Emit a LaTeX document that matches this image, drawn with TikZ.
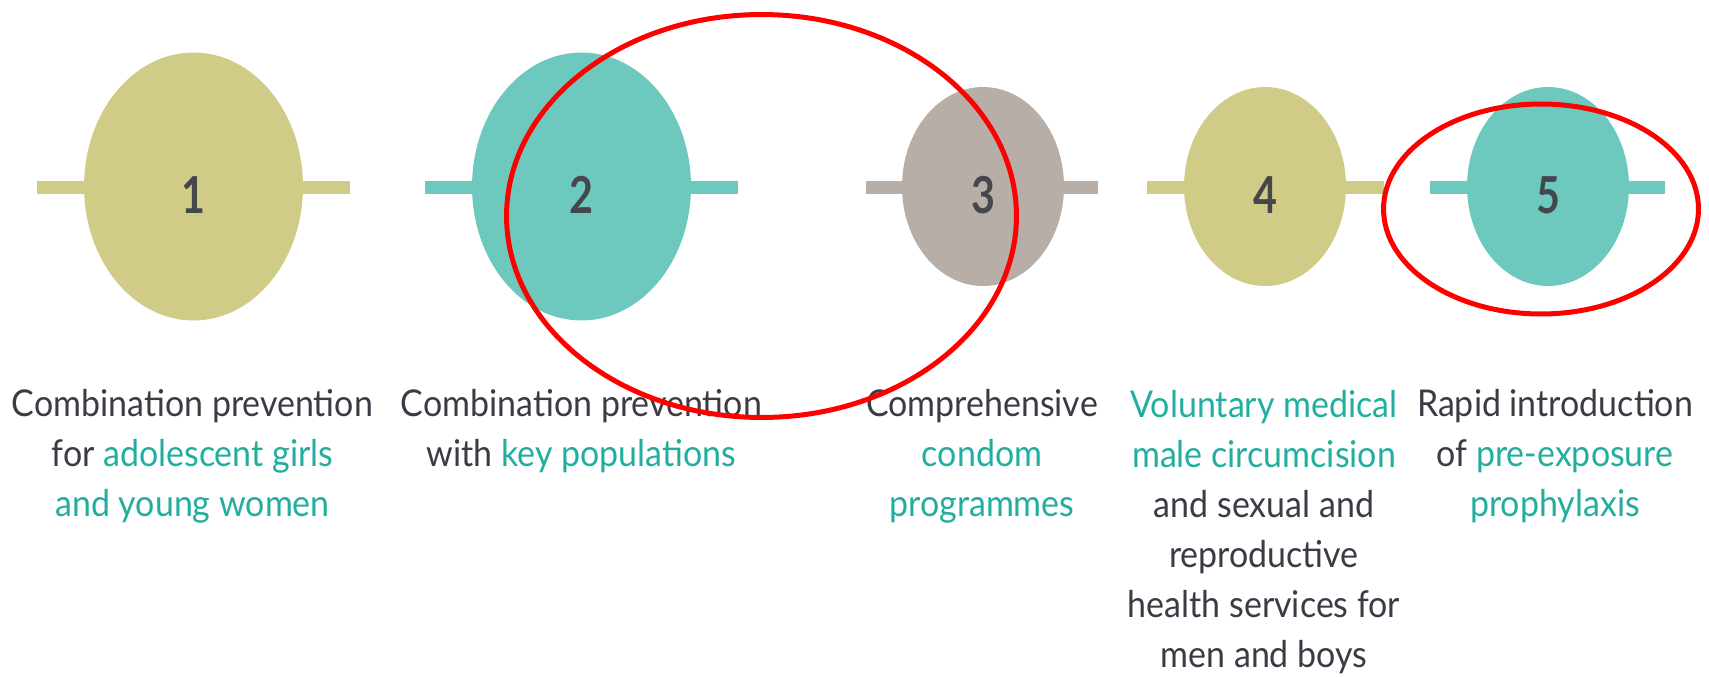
\documentclass[tikz,border=0pt]{standalone}
\usepackage{fontspec}
\setmainfont{Lato}[FakeStretch=0.92]
\usetikzlibrary{shapes.geometric}
\definecolor{olive}{HTML}{D0CB86}
\definecolor{teal}{HTML}{6DC9BD}
\definecolor{taupe}{HTML}{B6AEA7}
\definecolor{numcol}{HTML}{45474D}
\definecolor{txt}{HTML}{3B3B45}
\definecolor{tl}{HTML}{22AE9F}
\definecolor{redmark}{HTML}{FF0000}
\newcommand{\hl}[1]{\textcolor{tl}{#1}}
\tikzset{
  bar/.style={line width=0.26cm},
  bigoval/.style={ellipse, draw=none, inner sep=0pt, minimum width=4.38cm, minimum height=5.36cm},
  smalloval/.style={ellipse, draw=none, inner sep=0pt, minimum width=3.24cm, minimum height=3.98cm},
  num/.style={inner sep=0pt, text=numcol, font={\fontsize{29}{29}\selectfont\bfseries}},
  caption/.style={anchor=base, align=center, inner sep=0pt, text=txt, font={\fontsize{21}{28.35}\selectfont}},
  redring/.style={draw=redmark, line width=0.1cm}
}
\newcommand{\dig}[1]{\scalebox{0.88}[1]{#1}}
\begin{document}
\begin{tikzpicture}[x=0.02cm,y=-0.02cm]
\useasboundingbox (0,0) rectangle (1709,676);
% bar end points
\coordinate (l1a) at (37,187.5);   \coordinate (l1b) at (350,187.5);
\coordinate (l2a) at (425,187.5);  \coordinate (l2b) at (738,187.5);
\coordinate (l3a) at (866,187.5);  \coordinate (l3b) at (1098,187.5);
\coordinate (l4a) at (1147,187.5); \coordinate (l4b) at (1384,187.5);
\coordinate (l5a) at (1430,187.5); \coordinate (l5b) at (1665,187.5);
\draw[bar, olive] (l1a) -- (l1b);
\draw[bar, teal] (l2a) -- (l2b);
\draw[bar, taupe] (l3a) -- (l3b);
\draw[bar, olive] (l4a) -- (l4b);
\draw[bar, teal] (l5a) -- (l5b);
% ovals
\node[bigoval, fill=olive] (e1) at (193.5,186.5) {};
\node[bigoval, fill=teal] (e2) at (581.5,186.5) {};
\node[smalloval, fill=taupe] (e3) at (983,186.5) {};
\node[smalloval, fill=olive] (e4) at (1265,186.5) {};
\node[smalloval, fill=teal] (e5) at (1548,186.5) {};
% numbers
\node[num] (n1) at (193.5,195) {\dig{1}};
\node[num] (n2) at (581.5,195) {\dig{2}};
\node[num] (n3) at (983,195) {\dig{3}};
\node[num] (n4) at (1265,195) {\dig{4}};
\node[num] (n5) at (1548,195) {\dig{5}};
% captions (anchor = baseline of the last line)
\node[caption] (t1) at (192.5,516) {Combination prevention\\ for \hl{adolescent girls}\\ \hl{and young women}};
\node[caption] (t2) at (581.5,466) {Combination prevention\\ with \hl{key populations}};
\node[caption] (t3) at (982,516) {Comprehensive\\ \hl{condom}\\ \hl{programmes}};
\node[caption] (t4) at (1264,667) {\hl{Voluntary medical}\\ \hl{male circumcision}\\ and sexual and\\ reproductive\\ health services for\\ men and boys};
\node[caption] (t5) at (1555,516) {Rapid introduction\\ of \hl{pre-exposure}\\ \hl{prophylaxis}};
% red annotation rings
\node[ellipse, redring, inner sep=0pt, minimum width=10.2cm, minimum height=8.06cm] (r1) at (761.5,216) {};
\node[ellipse, redring, inner sep=0pt, minimum width=6.3cm, minimum height=4.2cm] (r2) at (1541,209) {};
\end{tikzpicture}
\end{document}
